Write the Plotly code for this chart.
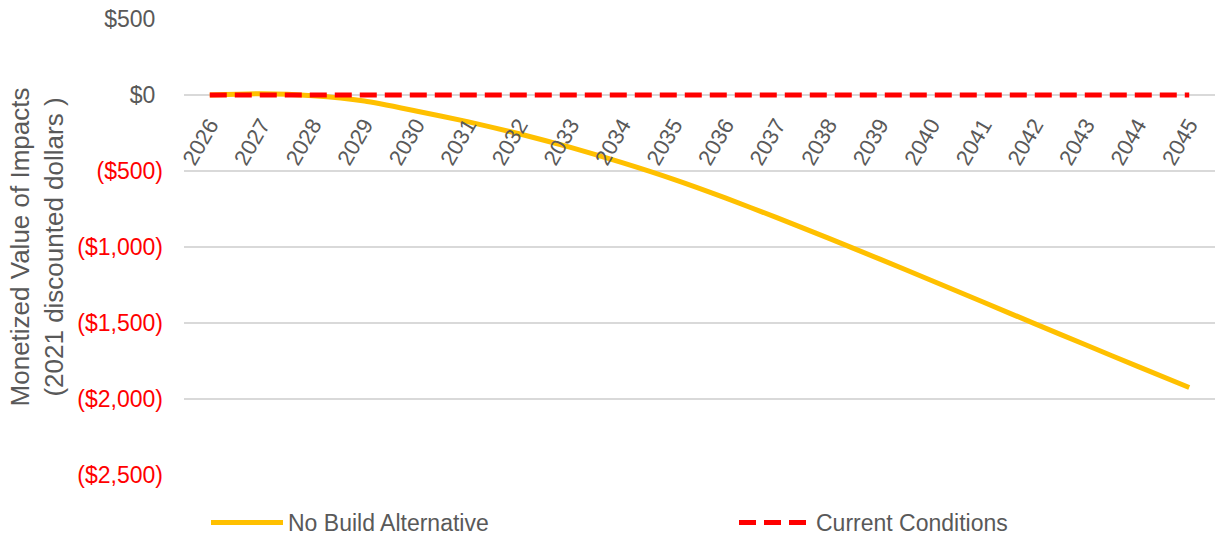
import plotly.graph_objects as go

# Study years (category axis)
years = [str(y) for y in range(2026, 2046)]

# Monetized value of impacts, 2021 discounted dollars
no_build = [0, 8, -5, -40, -105, -175, -255, -345, -445, -555,
            -677, -807, -942, -1080, -1220, -1362, -1504, -1645, -1785, -1924]
current_conditions = [0] * len(years)

# Y-axis ticks: accounting style, negatives in red parentheses
y_tickvals = [500, 0, -500, -1000, -1500, -2000, -2500]
y_ticklabels = ["$500", "$0", "($500)", "($1,000)", "($1,500)", "($2,000)", "($2,500)"]

GREY = "#595959"
RED = "#FF0000"
GOLD = "#FFC000"
FONT = "Liberation Sans, Arial, sans-serif"
FS = 23


def fmt_tick(val, label):
    if val < 0:
        return f'<span style="color:{RED}">{label}</span>'
    # keep positive labels aligned with the closing parenthesis of negatives
    return f'{label}<span style="color:rgba(0,0,0,0)">)</span>'


fig = go.Figure()
fig.add_trace(go.Scatter(
    x=years, y=no_build, mode="lines", name="No Build Alternative",
    line=dict(color=GOLD, width=5, shape="spline", smoothing=0.6),
    legend="legend",
))
fig.add_trace(go.Scatter(
    x=years, y=current_conditions, mode="lines", name="Current Conditions",
    line=dict(color=RED, width=5, dash="17px,8px"),
    legend="legend2",
))

y_min, y_max = -2500, 500
zero_pos = (0 - y_min) / (y_max - y_min)

W, H = 1215, 535
L, R, T, B = 184, 0, 19, 60


def legend_box(px_left):
    return dict(
        orientation="h", x=px_left / W, xanchor="left",
        y=1 - 501 / H, yanchor="top", xref="container", yref="container",
        font=dict(family=FONT, size=FS, color=GREY),
        itemwidth=72, bgcolor="rgba(0,0,0,0)",
    )


fig.update_layout(
    width=W, height=H,
    margin=dict(l=L, r=R, t=T, b=B, autoexpand=False),
    paper_bgcolor="white", plot_bgcolor="white",
    font=dict(family=FONT, size=FS, color=GREY),
    showlegend=True,
    legend=legend_box(206),
    legend2=legend_box(734),
    xaxis=dict(
        type="category", range=[-0.5, len(years) - 0.5],
        anchor="free", position=zero_pos,
        showgrid=False, showline=False, zeroline=False,
        tickangle=-60, tickfont=dict(family=FONT, size=22, color=GREY),
        ticks="", ticklabelstandoff=12,
    ),
    yaxis=dict(
        range=[y_min, y_max],
        tickvals=y_tickvals,
        ticktext=[fmt_tick(v, t) for v, t in zip(y_tickvals, y_ticklabels)],
        showgrid=True, gridcolor="#D9D9D9", gridwidth=1.5,
        zeroline=True, zerolinecolor="#D9D9D9", zerolinewidth=1.5,
        showline=False, ticks="", ticklabelstandoff=20,
        tickfont=dict(family=FONT, size=FS, color=GREY),
        title=dict(
            text="Monetized Value of Impacts<br>(2021 discounted dollars )",
            font=dict(family=FONT, size=26, color=GREY), standoff=6,
        ),
        automargin=False,
    ),
)

fig.write_html("out.html")
